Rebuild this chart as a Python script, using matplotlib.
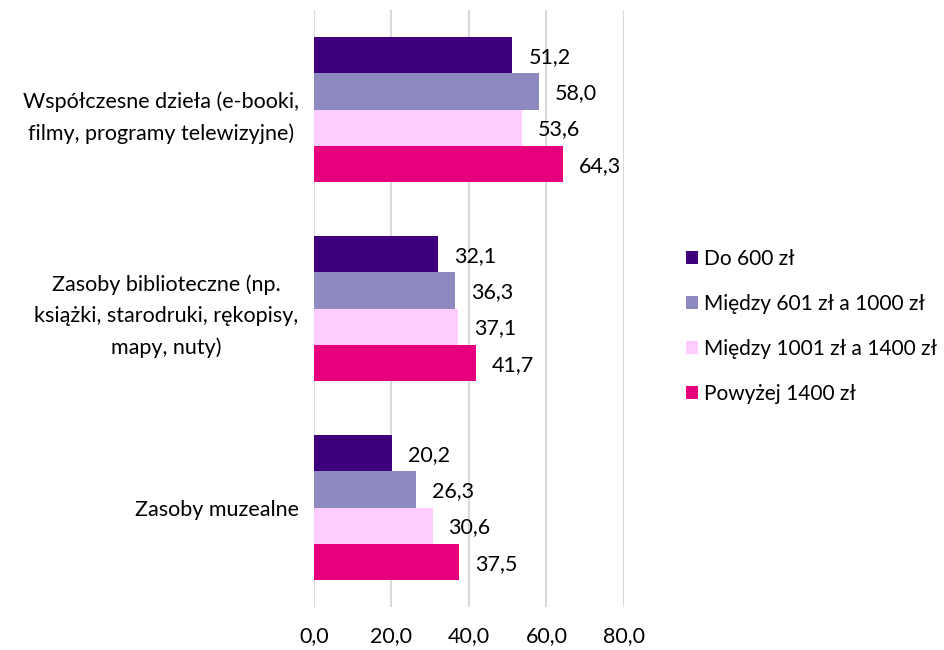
import matplotlib
matplotlib.use("Agg")
import matplotlib.pyplot as plt
import numpy as np
from matplotlib.patches import Patch

categories = ["Współczesne dzieła (e-booki,\nfilmy, programy telewizyjne)",
              "Zasoby biblioteczne (np.\nksiążki, starodruki, rękopisy,\nmapy, nuty)",
              "Zasoby muzealne"]
series_names = ["Do 600 zł", "Między 601 zł a 1000 zł", "Między 1001 zł a 1400 zł", "Powyżej 1400 zł"]
values = {
    "Do 600 zł": [51.2, 32.1, 20.2],
    "Między 601 zł a 1000 zł": [58.0, 36.3, 26.3],
    "Między 1001 zł a 1400 zł": [53.6, 37.1, 30.6],
    "Powyżej 1400 zł": [64.3, 41.7, 37.5],
}
colors = ["#3f007d", "#8c8abf", "#ffccff", "#e6007e"]
xticks = [0, 20, 40, 60, 80]

plt.rcParams['font.family'] = ['Lato', 'DejaVu Sans']
FS = 15.5
fig = plt.figure(figsize=(9.45, 6.5), dpi=100)
ax = fig.add_axes([314/945, 1-607/650, (624-314)/945, (607-10)/650])

n = len(categories)
bw = 0.181
ypos = np.arange(n)
for i, name in enumerate(series_names):
    y = ypos - 1.5*bw + i*bw
    vals = values[name]
    ax.barh(y, vals, height=bw, color=colors[i], zorder=3)
    for yy, v in zip(y, vals):
        ax.annotate(f"{v:.1f}".replace(".", ","), (v, yy), xytext=(11.5, -1.5),
                    textcoords="offset points", ha="left", va="center", fontsize=FS, color="#000000")

ax.set_ylim(n-0.5, -0.5)
ax.set_xlim(0, 80)
ax.set_xticks(xticks)
ax.set_xticklabels([f"{t:.1f}".replace(".", ",") for t in xticks], fontsize=FS)
ax.set_yticks(ypos)
ax.set_yticklabels(categories, fontsize=FS, multialignment="center", linespacing=1.7)
ax.tick_params(axis="both", length=0)
ax.tick_params(axis="x", pad=14)
ax.tick_params(axis="y", pad=11)
ax.grid(axis="x", color="#d9d9d9", linewidth=1.5, zorder=0)
for s in ax.spines.values():
    s.set_visible(False)

handles = [Patch(facecolor=c, label=l) for c, l in zip(colors, series_names)]
fig.legend(handles=handles, loc="upper left", bbox_to_anchor=(667/945, 1-230/650), frameon=False,
           fontsize=15, handlelength=0.6, handleheight=0.6, handletextpad=0.3, labelspacing=1.2)

fig.savefig("out.png", dpi=100)
